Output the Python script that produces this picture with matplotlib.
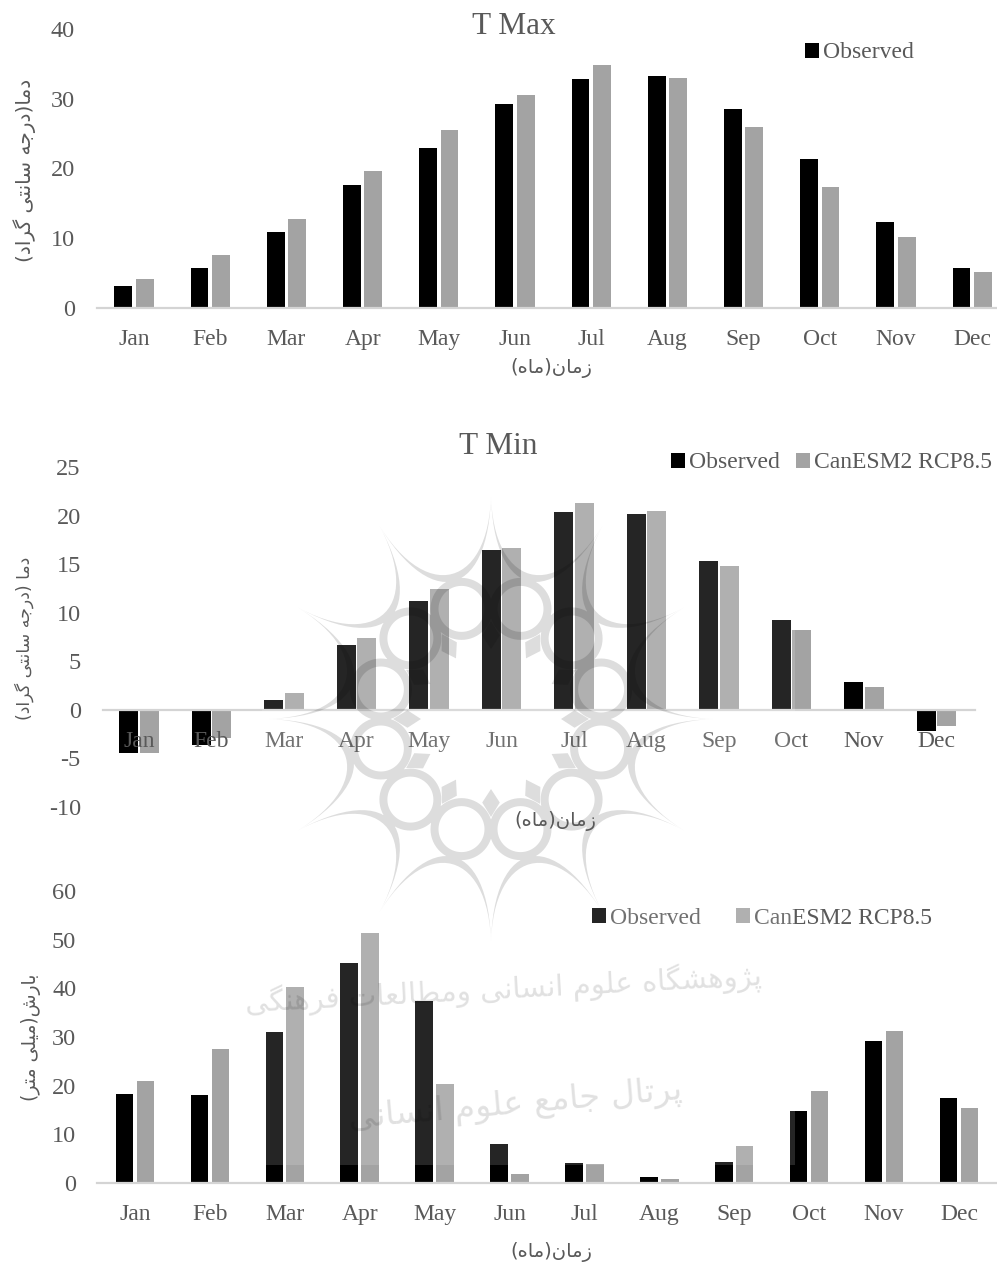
import numpy as np
import matplotlib
matplotlib.use('Agg')
import matplotlib.pyplot as plt
from matplotlib.path import Path
from matplotlib.patches import PathPatch, Rectangle

plt.rcParams['axes.unicode_minus'] = False

months = ['Jan', 'Feb', 'Mar', 'Apr', 'May', 'Jun', 'Jul', 'Aug', 'Sep', 'Oct', 'Nov', 'Dec']

tmax_obs = [3.1, 5.8, 10.9, 17.6, 22.9, 29.3, 32.9, 33.2, 28.6, 21.4, 12.4, 5.7]
tmax_model = [4.1, 7.6, 12.8, 19.6, 25.5, 30.6, 34.9, 33.0, 26.0, 17.4, 10.2, 5.2]
tmin_obs = [-4.4, -3.6, 1.0, 6.7, 11.2, 16.5, 20.4, 20.2, 15.3, 9.3, 2.9, -2.2]
tmin_model = [-4.4, -2.9, 1.7, 7.4, 12.4, 16.7, 21.3, 20.5, 14.8, 8.2, 2.4, -1.7]
rain_obs = [18.2, 18.0, 31.0, 45.3, 37.5, 8.1, 4.2, 1.3, 4.4, 14.7, 29.1, 17.5]
rain_model = [20.9, 27.5, 40.3, 51.3, 20.3, 1.8, 4.0, 0.8, 7.6, 19.0, 31.2, 15.5]

W, H = 997, 1265
TEXT = '#595959'
BLACK = '#000000'
GREY = '#a3a3a3'
LATIN = 'Liberation Serif'

# matplotlib does not shape Arabic script, so map letters to presentation forms by hand
JOIN_RIGHT = {'ا': 0xFE8D, 'د': 0xFEA9, 'ذ': 0xFEAB, 'ر': 0xFEAD, 'ز': 0xFEAF, 'و': 0xFEED, 'ژ': 0xFB8A}
JOIN_BOTH = {'ب': 0xFE8F, 'پ': 0xFB56, 'ت': 0xFE95, 'ج': 0xFE9D, 'چ': 0xFB7A, 'س': 0xFEB1, 'ش': 0xFEB5,
             'ط': 0xFEC1, 'ع': 0xFEC9, 'ف': 0xFED1, 'ک': 0xFB8E, 'گ': 0xFB92, 'ل': 0xFEDD, 'م': 0xFEE1,
             'ن': 0xFEE5, 'ه': 0xFEE9, 'ی': 0xFBFC}


def persian(s):
    out = []
    for i, c in enumerate(s):
        prev = s[i - 1] if i > 0 else ''
        nxt = s[i + 1] if i + 1 < len(s) else ''
        after = prev in JOIN_BOTH
        before = nxt in JOIN_BOTH or nxt in JOIN_RIGHT
        if c in JOIN_RIGHT:
            out.append(chr(JOIN_RIGHT[c] + (1 if after else 0)))
        elif c in JOIN_BOTH:
            form = {(False, False): 0, (True, False): 1, (False, True): 2, (True, True): 3}[(after, before)]
            out.append(chr(JOIN_BOTH[c] + form))
        else:
            out.append({'(': ')', ')': '('}.get(c, c))
    return ''.join(reversed(out))


def panel(left, right, top, bottom, center0, step, ymin, ymax, ticks, obs, model, width, legend_model, ypad):
    ax = fig.add_axes([left / W, 1 - bottom / H, (right - left) / W, (bottom - top) / H])
    x = np.arange(12)
    ax.bar(x - 0.14, obs, width, color=BLACK, label='Observed')
    ax.bar(x + 0.14, model, width, color=GREY, label='CanESM2 RCP8.5' if legend_model else None)
    for s in ['top', 'right', 'left']:
        ax.spines[s].set_visible(False)
    # moving the spine resets the ticks, so it has to come before the tick setup
    ax.spines['bottom'].set_position(('data', 0))
    ax.spines['bottom'].set_color('#d4d4d4')
    ax.spines['bottom'].set_linewidth(1.6)
    ax.set_xlim((left - center0) / step, (right - center0) / step)
    ax.set_ylim(ymin, ymax)
    ax.set_yticks(ticks)
    ax.set_xticks(x)
    ax.set_xticklabels(months, fontsize=17, family=LATIN, color=TEXT)
    ax.tick_params(axis='x', length=0, pad=15)
    ax.tick_params(axis='y', length=0, pad=ypad, labelsize=17.5, labelcolor=TEXT)
    for lab in ax.get_yticklabels():
        lab.set_family(LATIN)
    ax.patch.set_alpha(0)
    return ax


def add_legend(ax, x, y, spacing):
    ax.legend(loc='center left', bbox_to_anchor=(x / W, 1 - y / H), bbox_transform=fig.transFigure,
              ncols=2, frameon=False, handlelength=0.6, handleheight=0.6, handletextpad=0.15,
              columnspacing=spacing, borderpad=0, borderaxespad=0,
              prop={'family': LATIN, 'size': 17}, labelcolor=TEXT)


fig = plt.figure(figsize=(W / 100, H / 100), dpi=100)

ax1 = panel(97, 997, 29, 308, 134, 76.2, 0, 40, range(0, 41, 10), tmax_obs, tmax_model, 0.235, False, 16)
ax2 = panel(103, 975, 467, 807, 139, 72.5, -10, 25, range(-10, 26, 5), tmin_obs, tmin_model, 0.26, True, 16)
ax3 = panel(97, 997, 891, 1183, 135, 74.9, 0, 60, range(0, 61, 10), rain_obs, rain_model, 0.235, True, 15)

add_legend(ax1, 805, 53, 1)
add_legend(ax2, 671, 463, 0.7)
add_legend(ax3, 592, 918, 1.5)

# everything below is placed in reference pixels on a full-figure layer
over = fig.add_axes([0, 0, 1, 1], zorder=5)
over.set_xlim(0, W)
over.set_ylim(H, 0)
over.axis('off')

over.text(514, 26, 'T Max', ha='center', va='center', family=LATIN, fontsize=22.5, color=TEXT)
over.text(498, 446, 'T Min', ha='center', va='center', family=LATIN, fontsize=22.5, color=TEXT)

labels = [(25, 170, 'دما(درجه سانتی گراد)', 90, 14.5), (24, 638, 'دما (درجه سانتی گراد)', 90, 12.5),
          (31, 1037, 'بارش(میلی متر)', 90, 13.5), (551, 368, 'زمان(ماه)', 0, 14),
          (555, 821, 'زمان(ماه)', 0, 14), (551, 1252, 'زمان(ماه)', 0, 14)]
for lx, ly, s, rot, size in labels:
    over.text(lx, ly, persian(s), ha='center', va='center', rotation=rot, fontsize=size,
              family='DejaVu Sans', color=TEXT)

# watermark: pale box that lifts the blacks, then the rosette and two lines of text
over.add_patch(Rectangle((262, 470), 533, 695, color='white', alpha=0.15, lw=0))

cx, cy, R = 491, 719, 224


def pol(r, deg):
    a = np.radians(deg)
    return np.array([cx + r * np.sin(a), cy - r * np.cos(a)])


def bezier(p0, p1, p2, p3, n=30):
    t = np.linspace(0, 1, n)[:, None]
    return (1 - t) ** 3 * p0 + 3 * (1 - t) ** 2 * t * p1 + 3 * (1 - t) * t ** 2 * p2 + t ** 3 * p3


def oriented(pts, positive=True):
    # one compound path with matching winding fills as a union, so overlaps do not darken
    x, y = pts[:, 0], pts[:, 1]
    area = np.sum(x * np.roll(y, -1) - np.roll(x, -1) * y)
    pts = pts if (area > 0) == positive else pts[::-1]
    return Path(np.vstack([pts, pts[:1]]), closed=True)


def circle(c, r, n=60):
    a = np.linspace(0, 2 * np.pi, n, endpoint=False)
    return np.column_stack([c[0] + r * np.cos(a), c[1] + r * np.sin(a)])


shapes = []
for k in range(12):
    a0, a1, am = k * 30, k * 30 + 30, k * 30 + 15
    p0, p1 = pol(R, a0), pol(R, a1)
    outer = bezier(p0, pol(132, a0 + 1), pol(132, a1 - 1), p1)
    inner = bezier(p1, pol(122, a1 - 1), pol(122, a0 + 1), p0)
    shapes.append(oriented(np.vstack([outer, inner])))
    # ring with its hole wound the other way
    shapes.append(oriented(circle(pol(114, am), 31)))
    shapes.append(oriented(circle(pol(114, am), 23), positive=False))
    # small diamond under each spike
    shapes.append(oriented(np.array([pol(70, a0), pol(84, a0 + 6), pol(98, a0), pol(84, a0 - 6)])))

over.add_patch(PathPatch(Path.make_compound_path(*shapes), facecolor='black', alpha=0.135, lw=0))

over.text(503, 990, persian('پژوهشگاه علوم انسانی ومطالعات فرهنگی'), ha='center', va='center', rotation=3,
          fontsize=21, family='DejaVu Sans', color='black', alpha=0.12)
over.text(515, 1105, persian('پرتال جامع علوم انسانی'), ha='center', va='center', rotation=5,
          fontsize=24, family='DejaVu Sans', color='black', alpha=0.12)

fig.savefig('out.png', dpi=100)
